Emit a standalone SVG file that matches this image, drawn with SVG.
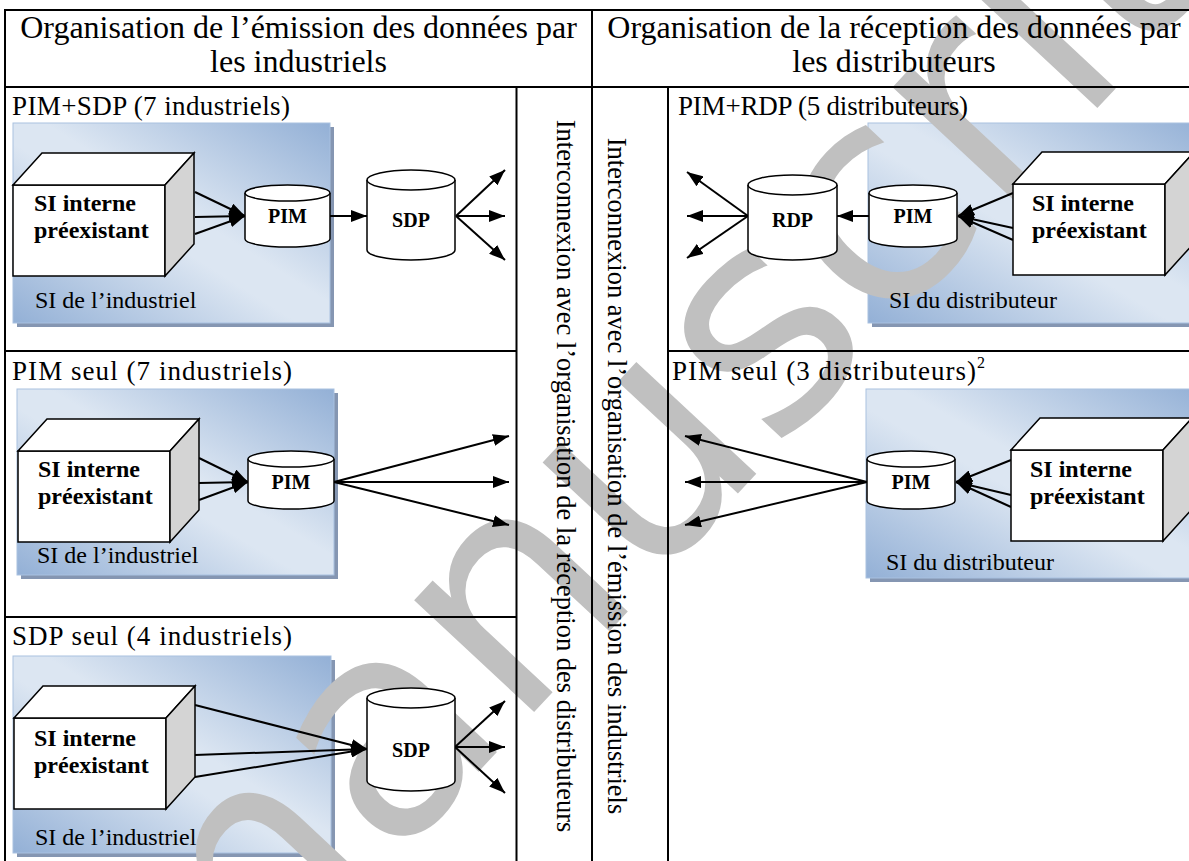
<svg xmlns="http://www.w3.org/2000/svg" width="1189" height="861" viewBox="0 0 1189 861">
<defs>
<linearGradient id="blue" x1="0" y1="1" x2="1" y2="0">
<stop offset="0" stop-color="#93b0d6"/>
<stop offset="0.45" stop-color="#dce6f2"/>
<stop offset="0.55" stop-color="#dce6f2"/>
<stop offset="1" stop-color="#93b0d6"/>
</linearGradient>
<marker id="ah" viewBox="0 0 16 12" refX="16" refY="6" markerWidth="16" markerHeight="12" markerUnits="userSpaceOnUse" orient="auto">
<path d="M0,0 L16,6 L0,12 z" fill="#000"/>
</marker>
<g id="cubeShape">
<rect x="0" y="0" width="152" height="91" fill="#fff" stroke="#000" stroke-width="1.5"/>
<polygon points="0,0 29,-32 181,-32 152,0" fill="#fff" stroke="#000" stroke-width="1.5"/>
<polygon points="152,0 181,-32 181,59 152,91" fill="#d4d4d4" stroke="#000" stroke-width="1.5"/>
</g>
</defs>
<style>
.tb{stroke:#000;stroke-width:2;fill:none}
.hdr{font-family:"Liberation Serif","Times New Roman",serif;font-size:32px;fill:#000}
.lbl{font-family:"Liberation Serif","Times New Roman",serif;font-size:27px;fill:#000}
.vt{font-family:"Liberation Serif","Times New Roman",serif;font-size:26.5px;fill:#000}
.si{font-family:"Liberation Serif","Times New Roman",serif;font-size:24px;fill:#000}
.cb{font-family:"Liberation Serif","Times New Roman",serif;font-size:24px;font-weight:bold;fill:#000}
.cy{font-family:"Liberation Serif","Times New Roman",serif;font-size:20px;font-weight:bold;fill:#000;text-anchor:middle}
.box{fill:url(#blue);stroke:#a9c1e0;stroke-width:1}
.sh{fill:#8596b2}
.cyl{fill:#fff;stroke:#000;stroke-width:1.5}
.ln{stroke:#000;stroke-width:2;fill:none;marker-end:url(#ah)}
.wm{font-family:"DejaVu Sans",sans-serif;font-size:300px;fill:#c0c0c0}
</style>
<rect x="0" y="0" width="1189" height="861" fill="#fff"/>

<g id="si-boxes">
<rect class="sh" x="17" y="127" width="317" height="200"/>
<rect class="box" x="13" y="123" width="317" height="200"/>
<rect class="sh" x="21" y="393" width="317" height="186"/>
<rect class="box" x="17" y="389" width="317" height="186"/>
<rect class="sh" x="17" y="660" width="318" height="197"/>
<rect class="box" x="13" y="656" width="318" height="197"/>
<rect class="sh" x="872" y="127" width="340" height="200"/>
<rect class="box" x="868" y="123" width="340" height="200"/>
<rect class="sh" x="870" y="393" width="340" height="189"/>
<rect class="box" x="866" y="389" width="340" height="189"/>
</g>

<g id="watermark">
<text class="wm" transform="translate(703,531) rotate(-47)" text-anchor="middle">manuscrit</text>
</g>

<g id="table">
<line class="tb" x1="5" y1="10" x2="1189" y2="10"/>
<line class="tb" x1="5" y1="9" x2="5" y2="861"/>
<line class="tb" x1="5" y1="87" x2="1189" y2="87"/>
<line class="tb" x1="592" y1="10" x2="592" y2="861"/>
<line class="tb" x1="516.5" y1="87" x2="516.5" y2="861"/>
<line class="tb" x1="668" y1="87" x2="668" y2="861"/>
<line class="tb" x1="5" y1="351" x2="516.5" y2="351"/>
<line class="tb" x1="668" y1="351" x2="1189" y2="351"/>
<line class="tb" x1="5" y1="617" x2="516.5" y2="617"/>
</g>

<g id="headers">
<text class="hdr" x="298.5" y="38" text-anchor="middle">Organisation de l’émission des données par</text>
<text class="hdr" x="298.5" y="72" text-anchor="middle">les industriels</text>
<text class="hdr" x="894" y="38" text-anchor="middle">Organisation de la réception des données par</text>
<text class="hdr" x="894" y="72" text-anchor="middle">les distributeurs</text>
</g>

<g id="cell-labels">
<text class="lbl" x="12" y="115" textLength="278" lengthAdjust="spacing">PIM+SDP (7 industriels)</text>
<text class="lbl" x="12" y="380" textLength="280" lengthAdjust="spacing">PIM seul (7 industriels)</text>
<text class="lbl" x="12" y="645" textLength="280" lengthAdjust="spacing">SDP seul (4 industriels)</text>
<text class="lbl" x="678" y="115" textLength="290" lengthAdjust="spacing">PIM+RDP (5 distributeurs)</text>
<text class="lbl" x="672" y="380"><tspan textLength="304" lengthAdjust="spacing">PIM seul (3 distributeurs)</tspan><tspan font-size="16" dy="-12">2</tspan></text>
</g>

<g id="vertical-labels">
<text class="vt" transform="translate(557,476) rotate(90)" text-anchor="middle">Interconnexion avec l’organisation de la réception des distributeurs</text>
<text class="vt" transform="translate(608,476) rotate(90)" text-anchor="middle">Interconnexion avec l’organisation de l’émission des industriels</text>
</g>

<g id="si-labels">
<text class="si" x="35" y="308">SI de l’industriel</text>
<text class="si" x="37" y="563">SI de l’industriel</text>
<text class="si" x="35" y="845">SI de l’industriel</text>
<text class="si" x="889" y="308">SI du distributeur</text>
<text class="si" x="886" y="570">SI du distributeur</text>
</g>

<g id="connectors">
<line class="ln" x1="195" y1="192" x2="245" y2="216"/>
<line class="ln" x1="195" y1="217" x2="245" y2="216"/>
<line class="ln" x1="195" y1="234" x2="245" y2="216"/>
<line class="ln" x1="330" y1="216" x2="367" y2="216"/>
<line class="ln" x1="456" y1="216" x2="505" y2="170"/>
<line class="ln" x1="456" y1="216" x2="505" y2="216"/>
<line class="ln" x1="456" y1="216" x2="505" y2="260"/>

<line class="ln" x1="199" y1="458" x2="248" y2="482"/>
<line class="ln" x1="199" y1="483" x2="248" y2="482"/>
<line class="ln" x1="199" y1="500" x2="248" y2="482"/>
<line class="ln" x1="334" y1="482" x2="509" y2="436"/>
<line class="ln" x1="334" y1="482" x2="509" y2="482"/>
<line class="ln" x1="334" y1="482" x2="509" y2="525"/>

<line class="ln" x1="195" y1="705" x2="367" y2="749"/>
<line class="ln" x1="195" y1="755" x2="367" y2="749"/>
<line class="ln" x1="195" y1="777" x2="367" y2="749"/>
<line class="ln" x1="455" y1="747" x2="505" y2="701"/>
<line class="ln" x1="455" y1="747" x2="505" y2="747"/>
<line class="ln" x1="455" y1="747" x2="505" y2="793"/>

<line class="ln" x1="1013" y1="193" x2="958" y2="216"/>
<line class="ln" x1="1013" y1="228" x2="958" y2="216"/>
<line class="ln" x1="1013" y1="240" x2="958" y2="216"/>
<line class="ln" x1="869" y1="216" x2="837" y2="216"/>
<line class="ln" x1="748" y1="216" x2="687" y2="172"/>
<line class="ln" x1="748" y1="216" x2="687" y2="216"/>
<line class="ln" x1="748" y1="216" x2="687" y2="258"/>

<line class="ln" x1="1011" y1="460" x2="956" y2="482"/>
<line class="ln" x1="1011" y1="495" x2="956" y2="482"/>
<line class="ln" x1="1011" y1="507" x2="956" y2="482"/>
<line class="ln" x1="867" y1="482" x2="685" y2="436"/>
<line class="ln" x1="867" y1="482" x2="685" y2="482"/>
<line class="ln" x1="867" y1="482" x2="685" y2="525"/>
</g>

<g id="cube-l1"><use href="#cubeShape" x="13" y="185"/><text class="cb" x="34" y="211">SI interne</text><text class="cb" x="34" y="238">préexistant</text></g>
<g id="cube-l2"><use href="#cubeShape" x="18" y="451"/><text class="cb" x="38" y="477">SI interne</text><text class="cb" x="38" y="504">préexistant</text></g>
<g id="cube-l3"><use href="#cubeShape" x="14" y="718"/><text class="cb" x="34" y="746">SI interne</text><text class="cb" x="34" y="773">préexistant</text></g>
<g id="cube-r1"><use href="#cubeShape" x="1013" y="184"/><text class="cb" x="1032" y="211">SI interne</text><text class="cb" x="1032" y="238">préexistant</text></g>
<g id="cube-r2"><use href="#cubeShape" x="1011" y="450"/><text class="cb" x="1030" y="477">SI interne</text><text class="cb" x="1030" y="504">préexistant</text></g>

<g id="pim-l1"><path class="cyl" d="M245,193 L245,239 A42.5,8 0 0 0 330,239 L330,193"/><ellipse class="cyl" cx="287.5" cy="193" rx="42.5" ry="8"/><text class="cy" x="287.5" y="223">PIM</text></g>
<g id="sdp-l1"><path class="cyl" d="M367,180 L367,250 A44,10 0 0 0 455,250 L455,180"/><ellipse class="cyl" cx="411" cy="180" rx="44" ry="10"/><text class="cy" x="411" y="227">SDP</text></g>
<g id="pim-l2"><path class="cyl" d="M248,459 L248,501 A43,8 0 0 0 334,501 L334,459"/><ellipse class="cyl" cx="291" cy="459" rx="43" ry="8"/><text class="cy" x="291" y="489">PIM</text></g>
<g id="sdp-l3"><path class="cyl" d="M367,698 L367,781 A44,10 0 0 0 455,781 L455,698"/><ellipse class="cyl" cx="411" cy="698" rx="44" ry="10"/><text class="cy" x="411" y="757">SDP</text></g>
<g id="rdp-r1"><path class="cyl" d="M748,185 L748,250 A44.5,10 0 0 0 837,250 L837,185"/><ellipse class="cyl" cx="792.5" cy="185" rx="44.5" ry="10"/><text class="cy" x="792.5" y="227">RDP</text></g>
<g id="pim-r1"><path class="cyl" d="M869,193 L869,239 A44,8 0 0 0 957,239 L957,193"/><ellipse class="cyl" cx="913" cy="193" rx="44" ry="8"/><text class="cy" x="913" y="223">PIM</text></g>
<g id="pim-r2"><path class="cyl" d="M867,459 L867,501 A44,8 0 0 0 955,501 L955,459"/><ellipse class="cyl" cx="911" cy="459" rx="44" ry="8"/><text class="cy" x="911" y="489">PIM</text></g>
</svg>
